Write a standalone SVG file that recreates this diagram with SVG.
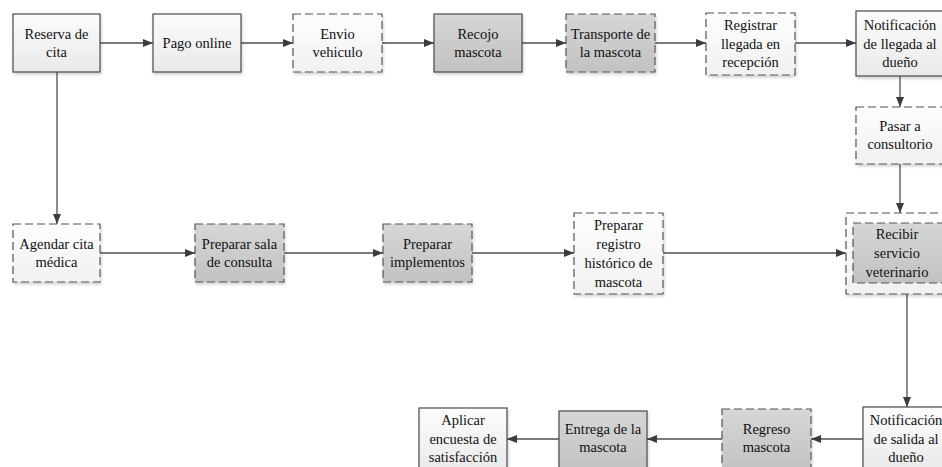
<svg xmlns="http://www.w3.org/2000/svg" width="942" height="467" viewBox="0 0 942 467">
<defs>
<linearGradient id="gLight" x1="0" y1="0" x2="0" y2="1">
<stop offset="0" stop-color="#fcfcfc"/><stop offset="1" stop-color="#e9e9e9"/>
</linearGradient>
<linearGradient id="gPale" x1="0" y1="0" x2="0" y2="1">
<stop offset="0" stop-color="#fdfdfd"/><stop offset="1" stop-color="#f1f1f1"/>
</linearGradient>
<linearGradient id="gDark" x1="0" y1="0" x2="0" y2="1">
<stop offset="0" stop-color="#d6d6d6"/><stop offset="1" stop-color="#c2c2c2"/>
</linearGradient>
<filter id="sh" x="-10%" y="-10%" width="125%" height="130%">
<feDropShadow dx="1" dy="2" stdDeviation="1.5" flood-color="#000" flood-opacity="0.18"/>
</filter>
<marker id="arr" markerUnits="userSpaceOnUse" markerWidth="10" markerHeight="10" viewBox="0 0 10 10" refX="10" refY="5" orient="auto">
<path d="M0,1 L10,5 L0,9 Z" fill="#3c3c3c"/>
</marker>
</defs>
<style>
rect{stroke-width:1.2;filter:url(#sh)}
.solid{stroke:#4a4a4a}
.dash{stroke:#555;stroke-dasharray:8 4}
.light{fill:url(#gLight)}
.pale{fill:url(#gPale)}
.dark{fill:url(#gDark)}
text{font-family:'Liberation Serif','Times New Roman',serif;font-size:14.5px;fill:#111;text-anchor:middle}
.conn path{fill:none;stroke:#4f4f4f;stroke-width:1.3;marker-end:url(#arr)}
</style>

<g class="conn" id="connectors">
<path d="M100,43 H153"/>
<path d="M241,43 H293"/>
<path d="M382,43 H434"/>
<path d="M522,43 H566"/>
<path d="M655,43 H706"/>
<path d="M795,43 H856"/>
<path d="M900,76 V107"/>
<path d="M900,164 V213"/>
<path d="M57,72 V224"/>
<path d="M100,253 H195"/>
<path d="M284,253 H383"/>
<path d="M472,253 H574"/>
<path d="M663,253 H846"/>
<path d="M907,294 V407"/>
<path d="M863,439 H811"/>
<path d="M722,439 H647"/>
<path d="M559,439 H507"/>
</g>

<g id="reserva"><rect class="solid light" x="13" y="14" width="87" height="58"/>
<text x="56.5" y="39">Reserva de</text><text x="56.5" y="57">cita</text></g>

<g id="pago"><rect class="solid light" x="153" y="14" width="88" height="58"/>
<text x="197" y="48">Pago online</text></g>

<g id="envio"><rect class="dash pale" x="293" y="14" width="89" height="58"/>
<text x="337.5" y="39">Envio</text><text x="337.5" y="57">vehiculo</text></g>

<g id="recojo"><rect class="solid dark" x="434" y="14" width="88" height="58"/>
<text x="478" y="39">Recojo</text><text x="478" y="57">mascota</text></g>

<g id="transporte"><rect class="dash dark" x="566" y="14" width="89" height="58"/>
<text x="610.5" y="39">Transporte de</text><text x="610.5" y="57">la mascota</text></g>

<g id="registrar"><rect class="dash pale" x="706" y="13" width="89" height="62"/>
<text x="750.5" y="30">Registrar</text><text x="750.5" y="48.5">llegada en</text><text x="750.5" y="67">recepción</text></g>

<g id="notif-llegada"><rect class="solid light" x="856" y="11" width="89" height="65"/>
<text x="900" y="30">Notificación</text><text x="900" y="48.5">de llegada al</text><text x="900" y="67">dueño</text></g>

<g id="pasar"><rect class="dash pale" x="856" y="107" width="89" height="57"/>
<text x="900" y="131">Pasar a</text><text x="900" y="149">consultorio</text></g>

<g id="agendar"><rect class="dash pale" x="13" y="224" width="87" height="58"/>
<text x="56.5" y="249">Agendar cita</text><text x="56.5" y="267">médica</text></g>

<g id="sala"><rect class="dash dark" x="195" y="224" width="89" height="58"/>
<text x="239.5" y="249">Preparar sala</text><text x="239.5" y="267">de consulta</text></g>

<g id="implementos"><rect class="dash dark" x="383" y="224" width="89" height="58"/>
<text x="427.5" y="249">Preparar</text><text x="427.5" y="267">implementos</text></g>

<g id="historico"><rect class="dash pale" x="574" y="213" width="89" height="81"/>
<text x="618.5" y="230">Preparar</text><text x="618.5" y="249">registro</text><text x="618.5" y="268">histórico de</text><text x="618.5" y="287">mascota</text></g>

<g id="recibir"><rect class="dash pale" x="846" y="213" width="99" height="81"/>
<rect class="dash dark" x="853" y="223" width="90" height="60" style="filter:none"/>
<text x="897" y="239">Recibir</text><text x="897" y="258">servicio</text><text x="897" y="277">veterinario</text></g>

<g id="notif-salida"><rect class="solid light" x="863" y="407" width="89" height="66"/>
<text x="906" y="425">Notificación</text><text x="906" y="443.5">de salida al</text><text x="906" y="462">dueño</text></g>

<g id="regreso"><rect class="dash dark" x="722" y="409" width="89" height="64"/>
<text x="766.5" y="434">Regreso</text><text x="766.5" y="452">mascota</text></g>

<g id="entrega"><rect class="solid dark" x="559" y="411" width="88" height="62"/>
<text x="603" y="434">Entrega de la</text><text x="603" y="452">mascota</text></g>

<g id="aplicar"><rect class="solid light" x="419" y="408" width="88" height="65"/>
<text x="463" y="425">Aplicar</text><text x="463" y="443.5">encuesta de</text><text x="463" y="462">satisfacción</text></g>
</svg>
